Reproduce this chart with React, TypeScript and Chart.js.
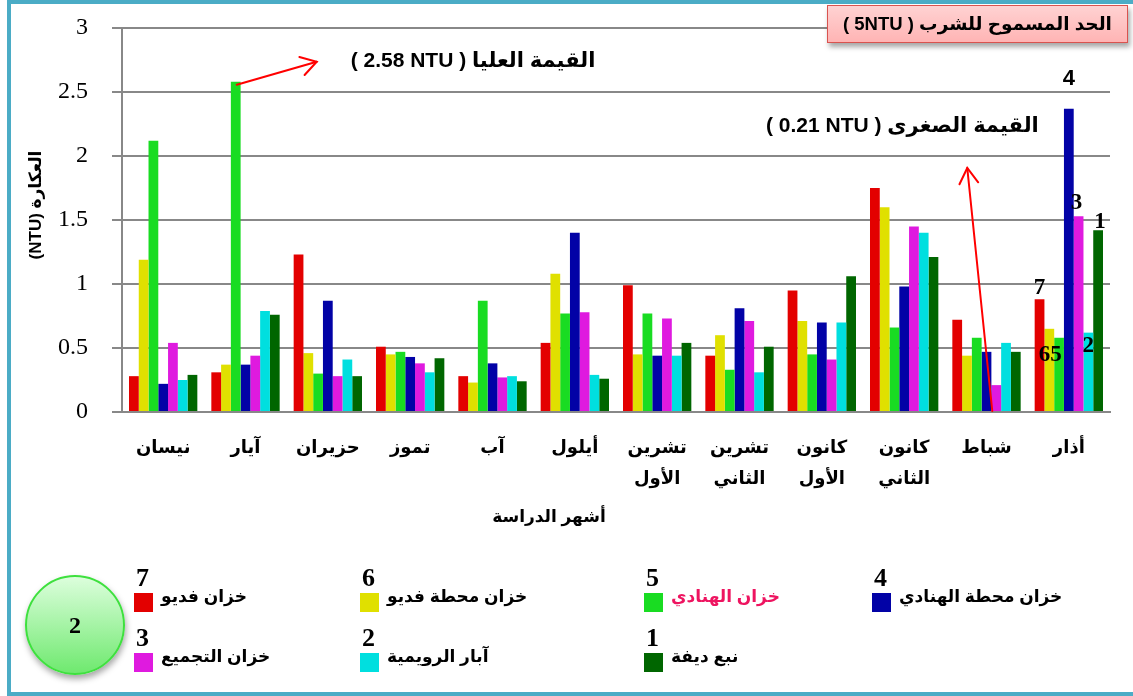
import React, { useEffect, useRef } from "react";
import { Chart, registerables } from "chart.js";

Chart.register(...registerables);

// ---------- data ----------
const months: (string | string[])[] = [
  "نيسان", "آيار", "حزيران", "تموز", "آب", "أيلول",
  ["تشرين", "الأول"], ["تشرين", "الثاني"], ["كانون", "الأول"], ["كانون", "الثاني"],
  "شباط", "أذار",
];

const seriesNames = [
  "خزان فديو", "خزان محطة فديو", "خزان الهنادي", "خزان محطة الهنادي",
  "خزان التجميع", "آبار الرويمية", "نبع ديفة",
];
const seriesNumbers = ["7", "6", "5", "4", "3", "2", "1"];
const seriesColors = ["#e30000", "#e0e000", "#19dc22", "#0202a6", "#df1adf", "#00dfdf", "#006600"];

const khazanFadyo = [0.28, 0.31, 1.23, 0.51, 0.28, 0.54, 0.99, 0.44, 0.95, 1.75, 0.72, 0.88];
const mahattaFadyo = [1.19, 0.37, 0.46, 0.45, 0.23, 1.08, 0.45, 0.60, 0.71, 1.60, 0.44, 0.65];
const khazanHanadi = [2.12, 2.58, 0.30, 0.47, 0.87, 0.77, 0.77, 0.33, 0.45, 0.66, 0.58, 0.58];
const mahattaHanadi = [0.22, 0.37, 0.87, 0.43, 0.38, 1.40, 0.44, 0.81, 0.70, 0.98, 0.47, 2.37];
const khazanTajmee = [0.54, 0.44, 0.28, 0.38, 0.27, 0.78, 0.73, 0.71, 0.41, 1.45, 0.21, 1.53];
const abarRuwaimiya = [0.25, 0.79, 0.41, 0.31, 0.28, 0.29, 0.44, 0.31, 0.70, 1.40, 0.54, 0.62];
const nabaaDifa = [0.29, 0.76, 0.28, 0.42, 0.24, 0.26, 0.54, 0.51, 1.06, 1.21, 0.47, 1.42];

const seriesValues = [khazanFadyo, mahattaFadyo, khazanHanadi, mahattaHanadi, khazanTajmee, abarRuwaimiya, nabaaDifa];

const yMin = 0;
const yMax = 3;
const yStep = 0.5;

// labels written next to the bars of the last month
const lastMonthMarks = ["7", "65", "", "4", "3", "2", "1"];

const AR_FONT = "'Liberation Sans', 'DejaVu Sans', sans-serif";
const SERIF = "'Liberation Serif', 'DejaVu Serif', serif";

// find extreme values
function findExtreme(isMax: boolean) {
  let best = isMax ? -Infinity : Infinity;
  let ds = 0, idx = 0;
  seriesValues.forEach((arr, d) =>
    arr.forEach((v, i) => {
      if ((isMax && v > best) || (!isMax && v < best)) { best = v; ds = d; idx = i; }
    })
  );
  return { value: best, ds, idx };
}
const maxInfo = findExtreme(true);
const minInfo = findExtreme(false);

function drawArrow(ctx: CanvasRenderingContext2D, x1: number, y1: number, x2: number, y2: number) {
  ctx.beginPath();
  ctx.moveTo(x1, y1);
  ctx.lineTo(x2, y2);
  ctx.stroke();
  const a = Math.atan2(y2 - y1, x2 - x1);
  const L = 18, w = 0.55;
  ctx.beginPath();
  ctx.moveTo(x2 - L * Math.cos(a - w), y2 - L * Math.sin(a - w));
  ctx.lineTo(x2, y2);
  ctx.lineTo(x2 - L * Math.cos(a + w), y2 - L * Math.sin(a + w));
  ctx.stroke();
}

const annotationPlugin = {
  id: "annots",
  afterDatasetsDraw(chart: any) {
    const ctx: CanvasRenderingContext2D = chart.ctx;
    ctx.save();
    ctx.strokeStyle = "#ff0000";
    ctx.lineWidth = 2;
    ctx.lineCap = "round";
    const maxEl = chart.getDatasetMeta(maxInfo.ds).data[maxInfo.idx];
    if (maxEl) {
      const sx = maxEl.x + 1, sy = maxEl.y + 3;
      drawArrow(ctx, sx, sy, sx + 80, sy - 23);
    }
    const minEl = chart.getDatasetMeta(minInfo.ds).data[minInfo.idx];
    if (minEl) {
      const sx = minEl.x - 4, sy = minEl.base;
      drawArrow(ctx, sx, sy, sx - 25, sy - 243);
    }
    const last = months.length - 1;
    const offsets = [[0, -11], [1, 26], [0, 0], [0, -30], [-2, -13], [0, 13], [2, -8]];
    ctx.fillStyle = "#000";
    ctx.textAlign = "center";
    ctx.textBaseline = "middle";
    lastMonthMarks.forEach((t, d) => {
      if (!t) return;
      const el = chart.getDatasetMeta(d).data[last];
      if (!el) return;
      ctx.font = d === 3 ? `bold 22px ${AR_FONT}` : `bold 23px ${SERIF}`;
      ctx.fillText(t, el.x + offsets[d][0], el.y + offsets[d][1]);
    });
    ctx.restore();
  },
};

export default function App() {
  const canvasRef = useRef<HTMLCanvasElement | null>(null);

  useEffect(() => {
    if (!canvasRef.current) return;
    const chart = new Chart(canvasRef.current, {
      type: "bar",
      data: {
        labels: months as any,
        datasets: seriesValues.map((vals, i) => ({
          label: seriesNames[i],
          data: vals,
          backgroundColor: seriesColors[i],
          borderWidth: 0,
          categoryPercentage: 0.83,
          barPercentage: 1.0,
        })),
      },
      options: {
        responsive: false,
        animation: false,
        devicePixelRatio: 1,
        layout: { padding: { left: 0, right: 23, top: 28, bottom: 0 } },
        plugins: {
          legend: { display: false },
          tooltip: { enabled: false },
          title: { display: false },
        },
        scales: {
          x: {
            grid: { display: false, drawTicks: false },
            border: { display: true, color: "#888888", width: 2 },
            ticks: {
              padding: 21,
              color: "#000",
              autoSkip: false,
              minRotation: 0,
              maxRotation: 0,
              font: { family: AR_FONT, size: 18, weight: "bold", lineHeight: 1.72 },
            },
            afterFit: (s: any) => { s.height = 284; },
          },
          y: {
            min: yMin,
            max: yMax,
            ticks: {
              stepSize: yStep,
              padding: 24,
              color: "#000",
              font: { family: SERIF, size: 24 },
              callback: (v: any) => String(+v),
            },
            grid: { color: "#888888", lineWidth: 2, tickLength: 10, drawTicks: true },
            border: { display: true, color: "#888888", width: 2 },
            afterFit: (s: any) => { s.width = 122; s.paddingTop = 0; s.paddingBottom = 0; },
          },
        },
      },
      plugins: [annotationPlugin],
    } as any);
    return () => chart.destroy();
  }, []);

  const legendCols = [134, 360, 644, 872];
  const legendRows = [593, 653];
  const legendPos = [[0, 0], [1, 0], [2, 0], [3, 0], [0, 1], [1, 1], [2, 1]];

  const abs = (s: React.CSSProperties): React.CSSProperties => ({ position: "absolute", whiteSpace: "nowrap", ...s });

  return (
    <div style={{ position: "absolute", left: 0, top: 0, width: 1133, height: 696, overflow: "hidden", background: "#fff" }}>
      <canvas ref={canvasRef} width={1133} height={696} style={{ position: "absolute", left: 0, top: 0, width: 1133, height: 696 }} />
      {/* frame */}
      <div style={abs({ left: 7, top: 0, width: 1140, height: 696, border: "4px solid #4bacc6", borderRightWidth: 0, boxSizing: "border-box", pointerEvents: "none" })} />
      {/* title box */}
      <div
        dir="ltr"
        style={abs({
          left: 827, top: 5, width: 301, height: 38, boxSizing: "border-box",
          background: "linear-gradient(#ffd2d2, #ffb4b4)", border: "1.5px solid #d9534f",
          boxShadow: "2px 4px 5px rgba(0,0,0,0.35)",
          font: `bold 18.5px ${AR_FONT}`, color: "#000", textAlign: "center", lineHeight: "35px",
        })}
      >
        ( 5NTU ) الحد المسموح للشرب
      </div>
      {/* annotations */}
      <div dir="ltr" style={abs({ left: 347, top: 45, width: 252, textAlign: "center", font: `bold 21px ${AR_FONT}`, color: "#000", lineHeight: "30px" })}>
        {`( ${maxInfo.value} NTU ) القيمة العليا`}
      </div>
      <div dir="ltr" style={abs({ left: 766, top: 110, width: 268, textAlign: "center", font: `bold 21px ${AR_FONT}`, color: "#000", lineHeight: "30px" })}>
        {`( ${minInfo.value} NTU ) القيمة الصغرى`}
      </div>
      {/* y-axis title */}
      <div dir="ltr" style={abs({ left: 35, top: 205, transform: "translate(-50%, -50%) rotate(-90deg)", font: `bold 17px ${AR_FONT}`, color: "#000" })}>
        (NTU) العكارة
      </div>
      {/* x-axis title */}
      <div dir="ltr" style={abs({ left: 549, top: 516, transform: "translate(-50%, -50%)", font: `bold 17px ${AR_FONT}`, color: "#000" })}>
        أشهر الدراسة
      </div>
      {/* circle */}
      <div style={abs({
        left: 25, top: 575, width: 100, height: 100, borderRadius: "50%", boxSizing: "border-box",
        border: "2px solid #3ee03e", background: "linear-gradient(#dcfedc, #6fe96f)",
        boxShadow: "1px 4px 6px rgba(0,0,0,0.35)",
        font: `bold 24px ${SERIF}`, color: "#000", textAlign: "center", lineHeight: "96px",
      })}>2</div>
      {/* legend */}
      {seriesNames.map((name, i) => {
        const [c, r] = legendPos[i];
        const x = legendCols[c];
        const y = legendRows[r];
        return (
          <React.Fragment key={i}>
            <div style={abs({ left: x, top: y, width: 19, height: 19, background: seriesColors[i] })} />
            <div style={abs({ left: x + 2, top: y - 30, font: `bold 26px ${SERIF}`, color: "#000", lineHeight: "30px" })}>{seriesNumbers[i]}</div>
            <div dir="ltr" style={abs({ left: x + 27, top: y + 3, transform: "translateY(-50%)", font: `bold 17px ${AR_FONT}`, color: i === 2 ? "#ee1460" : "#000" })}>{name}</div>
          </React.Fragment>
        );
      })}
    </div>
  );
}
